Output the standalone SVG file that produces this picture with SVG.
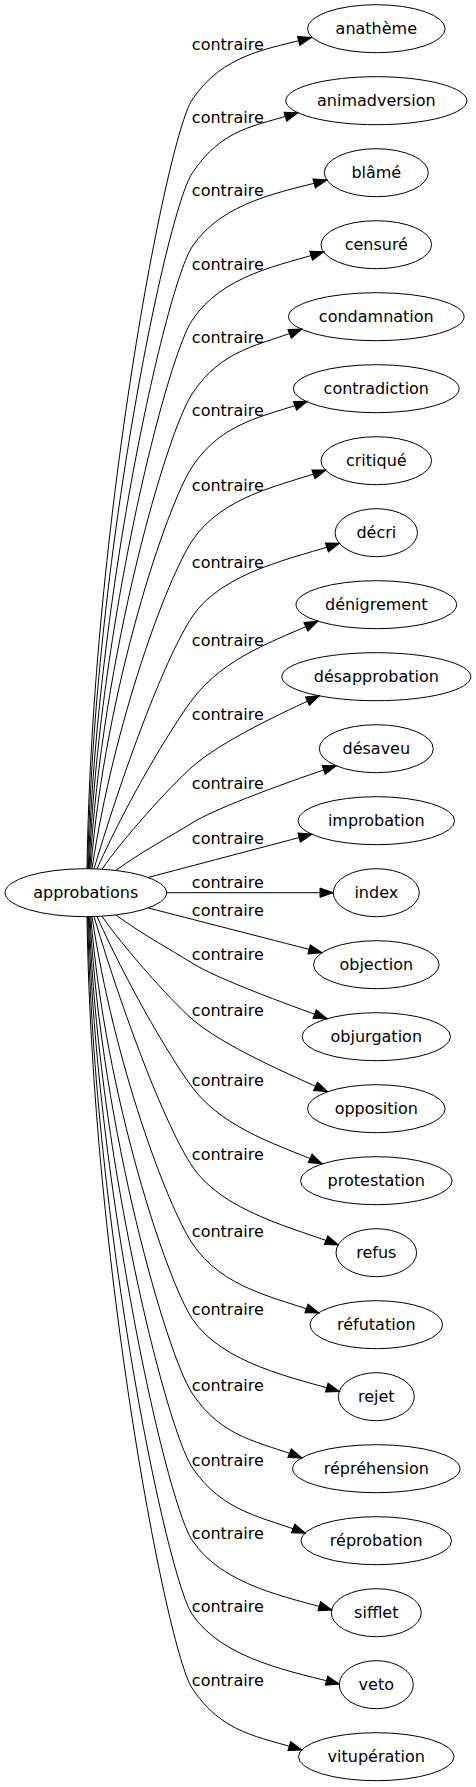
<svg xmlns="http://www.w3.org/2000/svg" width="476" height="1787" viewBox="0 0 476 1787">
<style>
text{font-family:"DejaVu Sans",Verdana,sans-serif;font-size:16px;text-anchor:middle;fill:#000}
.node ellipse{fill:none;stroke:#000;stroke-width:1}
.edge path{fill:none;stroke:#000;stroke-width:1;marker-end:url(#arr)}
</style>
<defs>
<marker id="arr" markerUnits="userSpaceOnUse" markerWidth="15.3" markerHeight="11.33" viewBox="-1 -1 15.3 11.33" refX="13.3" refY="4.67" orient="auto">
<path d="M0,0 L13.3,4.67 L0,9.33 Z" fill="#000" stroke="#000" stroke-width="1"/>
</marker>
</defs>
<rect x="0" y="0" width="476" height="1787" fill="#fff"/>
<g id="connectors">
<g class="edge" id="e0"><path d="M87,868.7 C92.2,522.8 167.25,137.6 192,100 C222.25,54.1 268,49 311.5,37.5"/><text x="227.8" y="49.6">contraire</text></g>
<g class="edge" id="e1"><path d="M87.7,868.7 C94,555.9 167.25,211.1 192,173.5 C222.25,127.6 255.1,126.3 298,112.7"/><text x="227.8" y="123">contraire</text></g>
<g class="edge" id="e2"><path d="M88.4,868.7 C96.8,588.9 167.25,284.6 192,247 C222.25,201.1 283.6,191.7 327,180"/><text x="227.8" y="196.3">contraire</text></g>
<g class="edge" id="e3"><path d="M89.1,868.7 C99,622 167.25,358.1 192,320.5 C222.25,274.6 280.9,265.2 323.8,251.8"/><text x="227.8" y="269.6">contraire</text></g>
<g class="edge" id="e4"><path d="M89.9,868.7 C101.6,655.1 167.25,431.6 192,394 C222.25,348.1 260.1,345.5 302,329"/><text x="227.8" y="343">contraire</text></g>
<g class="edge" id="e5"><path d="M90.8,868.7 C105.3,687.9 167.25,504.6 192,467 C222.25,421.1 265.2,416.6 307.5,401.3"/><text x="227.8" y="416.3">contraire</text></g>
<g class="edge" id="e6"><path d="M92,868.8 C114.1,721.3 167.25,578.6 192,541 C222.25,495.1 283.6,485 326,469.9"/><text x="227.8" y="491.3">contraire</text></g>
<g class="edge" id="e7"><path d="M94,868.8 C128,755.5 167.25,654.6 192,617 C222.25,571.1 296.9,557.6 339.5,543.2"/><text x="227.8" y="568">contraire</text></g>
<g class="edge" id="e8"><path d="M97,868.9 C131.2,792.9 174,724 192,700 C225,656 277.2,640.2 318,621.2"/><text x="227.8" y="645.5">contraire</text></g>
<g class="edge" id="e9"><path d="M102,869.2 C121.7,840.3 169.5,786.8 192,767 C222,740.6 283.1,712.3 319.5,695.7"/><text x="227.8" y="719.6">contraire</text></g>
<g class="edge" id="e10"><path d="M116,870.4 C140.1,852.5 170.75,836.25 192,823 C217.5,807.1 293.6,780 336.3,765.7"/><text x="227.8" y="789.3">contraire</text></g>
<g class="edge" id="e11"><path d="M148.3,877.4 C190,866.4 260,847.9 312,834.2"/><text x="227.8" y="844.3">contraire</text></g>
<g class="edge" id="e12"><path d="M166.6,892.7 L333.3,892.7"/><text x="227.8" y="888">contraire</text></g>
<g class="edge" id="e13"><path d="M148.3,908 C190,918.7 260,936.7 322,952.7"/><text x="227.8" y="915.6">contraire</text></g>
<g class="edge" id="e14"><path d="M116,915 C140.1,932.9 170.75,949.75 192,963 C217.5,978.9 284.9,1003.5 327.2,1018.7"/><text x="227.8" y="959.6">contraire</text></g>
<g class="edge" id="e15"><path d="M102,916.2 C121.7,945.1 169.5,999.2 192,1019 C222,1045.4 291.2,1075.3 327.7,1091.7"/><text x="227.8" y="1015.6">contraire</text></g>
<g class="edge" id="e16"><path d="M97,916.5 C131.5,993.2 174,1063 192,1087 C225,1131 285.9,1147.1 322.2,1163.9"/><text x="227.8" y="1085.6">contraire</text></g>
<g class="edge" id="e17"><path d="M94,916.6 C127.7,1028.8 167.25,1128.4 192,1166 C222.25,1211.9 296.6,1228.7 338.5,1245"/><text x="227.8" y="1160.3">contraire</text></g>
<g class="edge" id="e18"><path d="M92,916.6 C114,1063.5 167.25,1205.4 192,1243 C222.25,1288.9 276.7,1297.6 319,1313"/><text x="227.8" y="1237.3">contraire</text></g>
<g class="edge" id="e19"><path d="M90.8,916.7 C105.3,1097.5 167.25,1280.8 192,1318.4 C222.25,1364.3 296.5,1378.3 339.5,1391.5"/><text x="227.8" y="1314.6">contraire</text></g>
<g class="edge" id="e20"><path d="M89.9,916.7 C101.7,1131 167.25,1355.4 192,1393 C222.25,1438.9 260.1,1441.5 302,1458"/><text x="227.8" y="1391.3">contraire</text></g>
<g class="edge" id="e21"><path d="M89.1,916.7 C99,1164.3 167.25,1429.4 192,1467 C222.25,1512.9 263.6,1516.9 305.5,1533.3"/><text x="227.8" y="1465.6">contraire</text></g>
<g class="edge" id="e22"><path d="M88.4,916.7 C96.8,1197.2 167.25,1502.4 192,1540 C222.25,1585.9 288.8,1597.3 332,1610"/><text x="227.8" y="1538.6">contraire</text></g>
<g class="edge" id="e23"><path d="M87.7,916.7 C94,1230.5 167.25,1576.4 192,1614 C222.25,1659.9 295.9,1672.5 339.4,1684"/><text x="227.8" y="1612.3">contraire</text></g>
<g class="edge" id="e24"><path d="M87,916.7 C92.2,1263.8 167.25,1650.4 192,1688 C222.25,1733.9 259.1,1736.5 302,1750"/><text x="227.8" y="1685.6">contraire</text></g>
</g>
<g id="nodes">
<g class="node" id="n-approbations"><ellipse cx="85.8" cy="892.7" rx="80.8" ry="24"/><text x="85.8" y="898.4">approbations</text></g>
<g class="node" id="n-anatheme"><ellipse cx="376.3" cy="28.7" rx="68.8" ry="24"/><text x="376.3" y="34.4">anathème</text></g>
<g class="node" id="n-animadversion"><ellipse cx="376.3" cy="100.7" rx="90.5" ry="24"/><text x="376.3" y="106.4">animadversion</text></g>
<g class="node" id="n-blame"><ellipse cx="376.3" cy="172.7" rx="52" ry="24"/><text x="376.3" y="178.4">blâmé</text></g>
<g class="node" id="n-censure"><ellipse cx="376.3" cy="244.7" rx="55.3" ry="24"/><text x="376.3" y="250.4">censuré</text></g>
<g class="node" id="n-condamnation"><ellipse cx="376.3" cy="316.7" rx="87.8" ry="24"/><text x="376.3" y="322.4">condamnation</text></g>
<g class="node" id="n-contradiction"><ellipse cx="376.3" cy="388.7" rx="82.8" ry="24"/><text x="376.3" y="394.4">contradiction</text></g>
<g class="node" id="n-critique"><ellipse cx="376.3" cy="460.7" rx="55.3" ry="24"/><text x="376.3" y="466.4">critiqué</text></g>
<g class="node" id="n-decri"><ellipse cx="376.3" cy="532.7" rx="41.2" ry="24"/><text x="376.3" y="538.4">décri</text></g>
<g class="node" id="n-denigrement"><ellipse cx="376.3" cy="604.7" rx="80.3" ry="24"/><text x="376.3" y="610.4">dénigrement</text></g>
<g class="node" id="n-desapprobation"><ellipse cx="376.3" cy="676.7" rx="94.5" ry="24"/><text x="376.3" y="682.4">désapprobation</text></g>
<g class="node" id="n-desaveu"><ellipse cx="376.3" cy="748.7" rx="57" ry="24"/><text x="376.3" y="754.4">désaveu</text></g>
<g class="node" id="n-improbation"><ellipse cx="376.3" cy="820.7" rx="78.3" ry="24"/><text x="376.3" y="826.4">improbation</text></g>
<g class="node" id="n-index"><ellipse cx="376.3" cy="892.7" rx="43" ry="24"/><text x="376.3" y="898.4">index</text></g>
<g class="node" id="n-objection"><ellipse cx="376.3" cy="964.7" rx="62.8" ry="24"/><text x="376.3" y="970.4">objection</text></g>
<g class="node" id="n-objurgation"><ellipse cx="376.3" cy="1036.7" rx="74.2" ry="24"/><text x="376.3" y="1042.4">objurgation</text></g>
<g class="node" id="n-opposition"><ellipse cx="376.3" cy="1108.7" rx="68.8" ry="24"/><text x="376.3" y="1114.4">opposition</text></g>
<g class="node" id="n-protestation"><ellipse cx="376.3" cy="1180.7" rx="75.8" ry="24"/><text x="376.3" y="1186.4">protestation</text></g>
<g class="node" id="n-refus"><ellipse cx="376.3" cy="1252.7" rx="40.3" ry="24"/><text x="376.3" y="1258.4">refus</text></g>
<g class="node" id="n-refutation"><ellipse cx="376.3" cy="1324.7" rx="66.3" ry="24"/><text x="376.3" y="1330.4">réfutation</text></g>
<g class="node" id="n-rejet"><ellipse cx="376.3" cy="1396.7" rx="38" ry="24"/><text x="376.3" y="1402.4">rejet</text></g>
<g class="node" id="n-reprehension"><ellipse cx="376.3" cy="1468.7" rx="83.7" ry="24"/><text x="376.3" y="1474.4">répréhension</text></g>
<g class="node" id="n-reprobation"><ellipse cx="376.3" cy="1540.7" rx="75.3" ry="24"/><text x="376.3" y="1546.4">réprobation</text></g>
<g class="node" id="n-sifflet"><ellipse cx="376.3" cy="1612.7" rx="45" ry="24"/><text x="376.3" y="1618.4">sifflet</text></g>
<g class="node" id="n-veto"><ellipse cx="376.3" cy="1684.7" rx="37" ry="24"/><text x="376.3" y="1690.4">veto</text></g>
<g class="node" id="n-vituperation"><ellipse cx="376.3" cy="1756.7" rx="77.8" ry="24"/><text x="376.3" y="1762.4">vitupération</text></g>
</g>
</svg>
